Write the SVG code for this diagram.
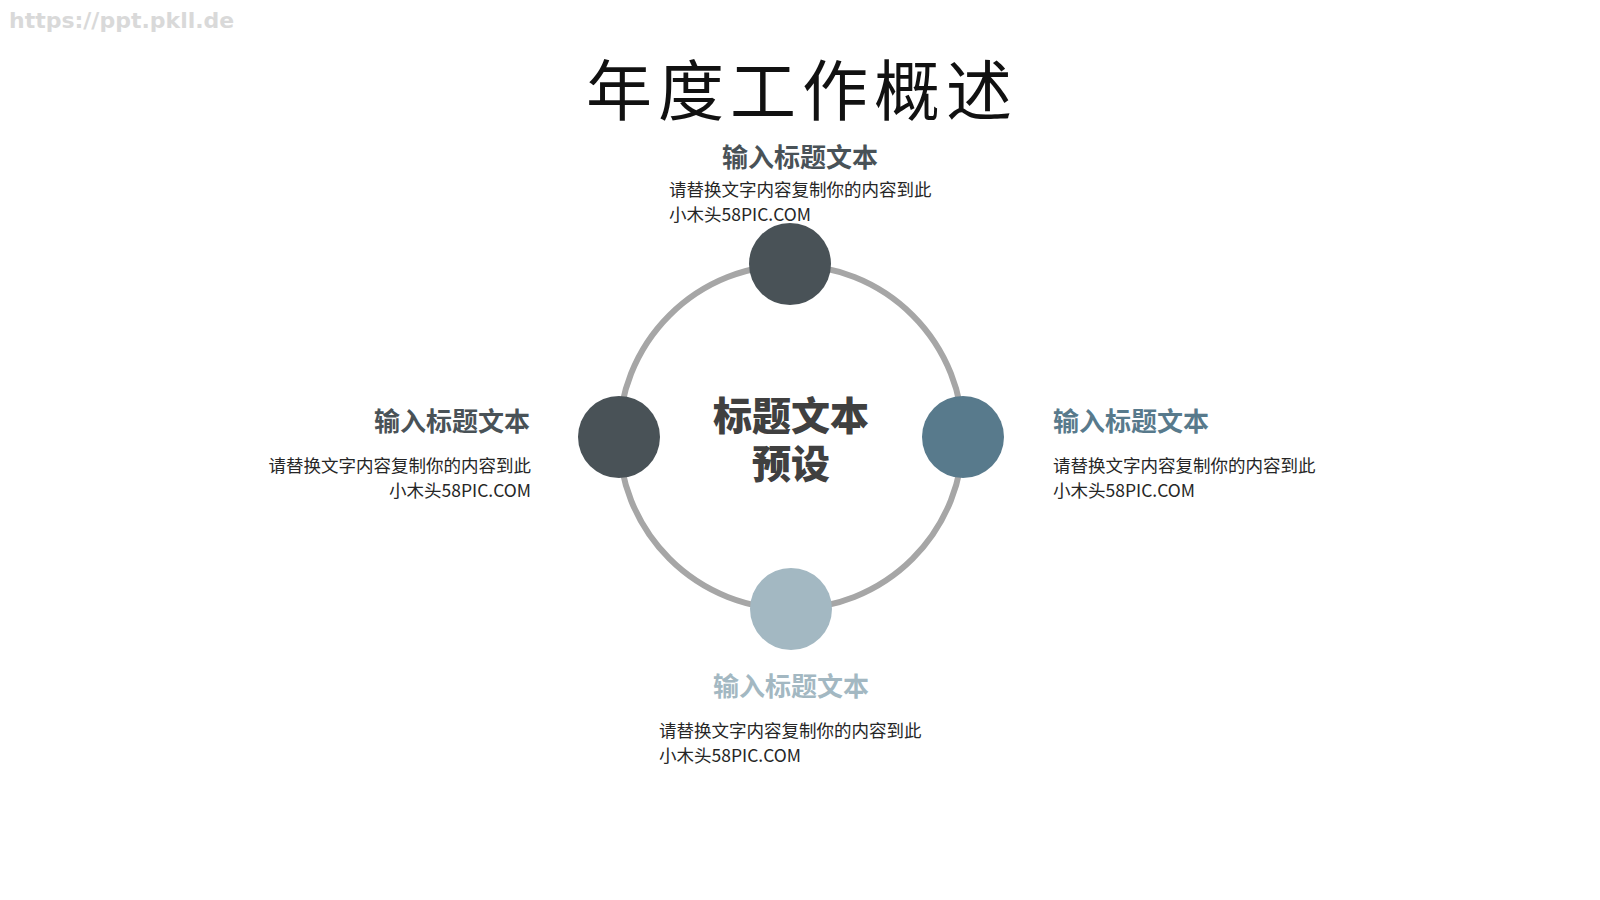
<svg xmlns="http://www.w3.org/2000/svg" width="1600" height="900" viewBox="0 0 1600 900">
<style>
.wm{font-family:"DejaVu Sans","Liberation Sans",sans-serif;font-weight:bold;font-size:22px;fill:#d9d9d9}
.title{font-family:"Noto Sans CJK SC",serif;font-size:66px;font-weight:400;fill:#111;letter-spacing:6px}
.h{font-family:"Noto Sans CJK SC",sans-serif;font-weight:bold;font-size:26px}
.b{font-family:"Noto Sans CJK SC",sans-serif;font-size:17.5px;fill:#262626}
.c{font-family:"Noto Sans CJK SC",sans-serif;font-weight:900;font-size:39px;fill:#404040;text-anchor:middle}
</style>
<rect width="1600" height="900" fill="#ffffff"/>
<text class="wm" x="9" y="28">https://ppt.pkll.de</text>
<text class="title" x="802" y="115" text-anchor="middle">年度工作概述</text>
<g id="connectors">
<circle cx="791" cy="437" r="172" fill="none" stroke="#a6a6a6" stroke-width="6"/>
</g>
<g id="center">
<text class="c"><tspan x="791" y="430">标题文本</tspan><tspan x="791" y="478">预设</tspan></text>
</g>
<g id="node-top">
<circle cx="790" cy="264" r="41" fill="#495257"/>
<text class="h" x="800" y="167" text-anchor="middle" fill="#495257">输入标题文本</text>
<text class="b" x="669" y="196">请替换文字内容复制你的内容到此</text>
<text class="b" x="669" y="221">小木头58PIC.COM</text>
</g>
<g id="node-left">
<circle cx="619" cy="437" r="41" fill="#495257"/>
<text class="h" x="530" y="431" text-anchor="end" fill="#495257">输入标题文本</text>
<text class="b" x="531" y="472" text-anchor="end">请替换文字内容复制你的内容到此</text>
<text class="b" x="531" y="497" text-anchor="end">小木头58PIC.COM</text>
</g>
<g id="node-right">
<circle cx="963" cy="437" r="41" fill="#587a8c"/>
<text class="h" x="1053" y="431" fill="#587a8c">输入标题文本</text>
<text class="b" x="1053" y="472">请替换文字内容复制你的内容到此</text>
<text class="b" x="1053" y="497">小木头58PIC.COM</text>
</g>
<g id="node-bottom">
<circle cx="791" cy="609" r="41" fill="#a3b8c2"/>
<text class="h" x="791" y="696" text-anchor="middle" fill="#a3b8c2">输入标题文本</text>
<text class="b" x="659" y="737">请替换文字内容复制你的内容到此</text>
<text class="b" x="659" y="762">小木头58PIC.COM</text>
</g>
</svg>
